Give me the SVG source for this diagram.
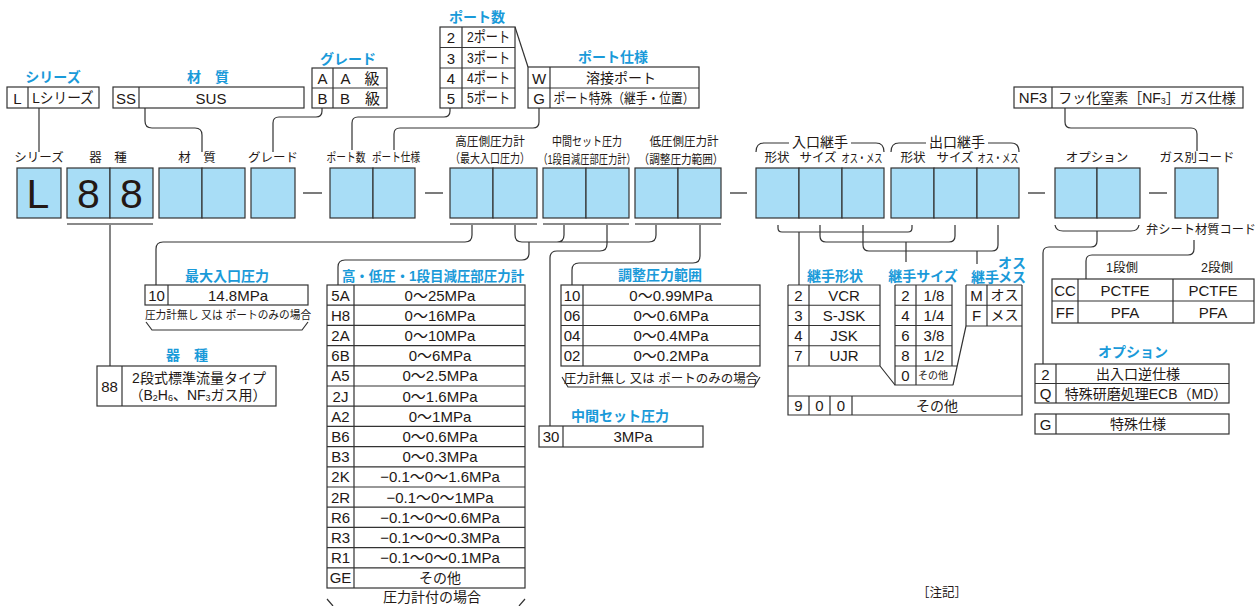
<svg xmlns="http://www.w3.org/2000/svg" width="1258" height="606" viewBox="0 0 1258 606">
<style>
text{font-family:"Liberation Sans","Noto Sans CJK JP",sans-serif;fill:#231815;text-anchor:middle;dominant-baseline:central;font-size:15px}
.j{font-size:14px}
.st{text-anchor:start}
.lb{font-size:12.5px}
.sm{font-size:11.5px}
.xs{font-size:10px}
.ti{fill:#1A9AD9;font-weight:bold;font-size:14px}
.big{font-size:41px;dominant-baseline:alphabetic}
.box{fill:#A8DDF6;stroke:#333;stroke-width:1.2}
.tb{fill:#fff;stroke:#333;stroke-width:1.2}
.ln{fill:none;stroke:#333;stroke-width:1.2}
.ul{stroke:#8a8a8a;stroke-width:2}
.dash{stroke:#333;stroke-width:1.3}
</style>
<rect width="1258" height="606" fill="#fff"/>

<g id="connectors">
  <path class="ln" d="M39 108V152"/>
  <path class="ln" d="M145 108V121Q145 128 152 128H195Q202 128 202 135V152"/>
  <path class="ln" d="M322 108V111Q322 117 316 117H279Q273 117 273 123V152"/>
  <path class="ln" d="M450 108V111Q450 117 444 117H358Q352 117 352 123V150"/>
  <path class="ln" d="M539 108V122Q539 128 533 128H400Q394 128 394 134V150"/>
  <path class="ln" d="M515 27L528 67"/>
  <path class="ln" d="M1065 108V122Q1065 128 1071 128H1191Q1197 128 1197 134V151"/>
  <line class="ul" x1="67" y1="224" x2="153" y2="224"/>
  <line class="ul" x1="450" y1="224" x2="537" y2="224"/>
  <line class="ul" x1="543" y1="224" x2="629" y2="224"/>
  <line class="ul" x1="635" y1="224" x2="721" y2="224"/>
  <path class="ln" d="M110 225V366"/>
  <path class="ln" d="M472 225V235Q472 242 465 242H163Q156 242 156 249V285"/>
  <path class="ln" d="M515 225V235Q515 242 522 242H649Q656 242 656 235V225M564 225V235Q564 242 557 242"/>
  <path class="ln" d="M529 242V253Q529 260 522 260H345Q338 260 338 267V285"/>
  <path class="ln" d="M607 225V244Q607 251 600 251H557Q550 251 550 258V426"/>
  <path class="ln" d="M700 225V256Q700 263 693 263H579Q572 263 572 270V285"/>
  <path class="ln" d="M756 152Q756 143 764 143H789M851 143H876Q884 143 884 152"/>
  <path class="ln" d="M891 152Q891 143 899 143H926M988 143H1011Q1019 143 1019 152"/>
  <path class="ln" d="M778 225V228Q778 232 782 232H908Q912 232 912 228V225M799 232V285"/>
  <path class="ln" d="M820 225V236Q820 242 826 242H949Q955 242 955 236V225M906 242V262"/>
  <path class="ln" d="M863 225V245Q863 251 869 251H992Q998 251 998 245V225M977 251V264"/>
  <path class="ln" d="M1055 225Q1056 231 1063 231H1131Q1138 231 1139 225M1097 231V241Q1097 247 1091 247H1049Q1043 247 1043 253V364"/>
  <path class="ln" d="M1194 240V249Q1194 255 1188 255H1092Q1086 255 1086 261V279"/>
  <path class="ln" d="M146 322L152 330H302L308 322"/>
  <path class="ln" d="M562 377L568 387H754L760 377"/>
  <path class="ln" d="M327 599L333 606M525 599L519 606"/>
  <line class="dash" x1="303" y1="193" x2="322" y2="193"/>
  <line class="dash" x1="425" y1="193" x2="443" y2="193"/>
  <line class="dash" x1="730" y1="193" x2="747" y2="193"/>
  <line class="dash" x1="1028" y1="193" x2="1045" y2="193"/>
  <line class="dash" x1="1149" y1="193" x2="1167" y2="193"/>
</g>

<g id="code-boxes">
  <rect class="box" x="17" y="168" width="44" height="50"/>
  <rect class="box" x="67" y="168" width="43" height="50"/><rect class="box" x="110" y="168" width="43" height="50"/>
  <rect class="box" x="159" y="168" width="43" height="50"/><rect class="box" x="202" y="168" width="43" height="50"/>
  <rect class="box" x="251" y="168" width="44" height="50"/>
  <rect class="box" x="330" y="168" width="43" height="50"/><rect class="box" x="373" y="168" width="42" height="50"/>
  <rect class="box" x="450" y="168" width="43" height="50"/><rect class="box" x="493" y="168" width="44" height="50"/>
  <rect class="box" x="543" y="168" width="43" height="50"/><rect class="box" x="586" y="168" width="43" height="50"/>
  <rect class="box" x="635" y="168" width="43" height="50"/><rect class="box" x="678" y="168" width="43" height="50"/>
  <rect class="box" x="756" y="168" width="43" height="50"/><rect class="box" x="799" y="168" width="43" height="50"/><rect class="box" x="842" y="168" width="42" height="50"/>
  <rect class="box" x="891" y="168" width="43" height="50"/><rect class="box" x="934" y="168" width="43" height="50"/><rect class="box" x="977" y="168" width="42" height="50"/>
  <rect class="box" x="1055" y="168" width="42" height="50"/><rect class="box" x="1097" y="168" width="43" height="50"/>
  <rect class="box" x="1175" y="168" width="43" height="50"/>
  <text class="big" x="38" y="208">L</text>
  <text class="big" x="88.5" y="208">8</text>
  <text class="big" x="131.5" y="208">8</text>
</g>

<g id="box-labels">
  <text class="lb" x="39" y="158">シリーズ</text>
  <text class="lb" x="108" y="158">器　種</text>
  <text class="lb" x="197" y="158">材　質</text>
  <text class="lb" x="273" y="158">グレード</text>
  <text class="lb" transform="translate(346 158) scale(0.78 1)">ポート数</text>
  <text class="lb" transform="translate(396 158) scale(0.77 1)">ポート仕様</text>
  <text class="lb" transform="translate(490 142) scale(0.93 1)">高圧側圧力計</text>
  <text class="lb" transform="translate(490 159) scale(0.8 1)">（最大入口圧力）</text>
  <text class="lb" transform="translate(587 142) scale(0.8 1)">中間セット圧力</text>
  <text class="lb" transform="translate(587 159) scale(0.74 1)">（1段目減圧部圧力計）</text>
  <text class="lb" transform="translate(684 142) scale(0.92 1)">低圧側圧力計</text>
  <text class="lb" transform="translate(681 159) scale(0.85 1)">（調整圧力範囲）</text>
  <text class="j" x="820" y="142">入口継手</text>
  <text class="j" x="957" y="142">出口継手</text>
  <text class="lb" x="777" y="158">形状</text>
  <text class="lb" x="818" y="158">サイズ</text>
  <text class="lb" transform="translate(862 158) scale(0.66 1)">オス・メス</text>
  <text class="lb" x="913" y="158">形状</text>
  <text class="lb" x="955" y="158">サイズ</text>
  <text class="lb" transform="translate(998 158) scale(0.66 1)">オス・メス</text>
  <text class="lb" x="1097" y="158">オプション</text>
  <text class="lb" x="1197" y="158">ガス別コード</text>
  <text class="lb st" transform="translate(1146 230) scale(0.98 1)">弁シート材質コード</text>
</g>

<g id="series">
  <text class="ti" x="53" y="77">シリーズ</text>
  <rect class="tb" x="7" y="87" width="92" height="21"/><line class="ln" x1="28" y1="87" x2="28" y2="108"/>
  <text x="17.5" y="98">L</text><text transform="translate(63 98) scale(0.91 1)">Lシリーズ</text>
</g>

<g id="material">
  <text class="ti" x="208" y="77">材　質</text>
  <rect class="tb" x="113" y="87" width="191" height="21"/><line class="ln" x1="139" y1="87" x2="139" y2="108"/>
  <text x="126" y="98">SS</text><text x="211" y="98">SUS</text>
</g>

<g id="grade">
  <text class="ti" x="348" y="59">グレード</text>
  <rect class="tb" x="312" y="68" width="75" height="40"/>
  <path class="ln" d="M312 88H387M333 68V108"/>
  <text x="322.5" y="78">A</text><text x="322.5" y="98">B</text>
  <text x="360" y="78">A　級</text><text x="360" y="98">B　級</text>
</g>

<g id="port-count">
  <text class="ti" x="477" y="17">ポート数</text>
  <rect class="tb" x="440" y="27" width="75" height="81"/>
  <path class="ln" d="M440 47.5H515M440 68H515M440 88H515M462 27V108"/>
  <text x="451" y="37.5">2</text><text x="451" y="58">3</text><text x="451" y="78">4</text><text x="451" y="98">5</text>
  <text class="st" transform="translate(467 37.5) scale(0.81 1)">2ポート</text>
  <text class="st" transform="translate(467 58) scale(0.81 1)">3ポート</text>
  <text class="st" transform="translate(467 78) scale(0.81 1)">4ポート</text>
  <text class="st" transform="translate(467 98) scale(0.81 1)">5ポート</text>
</g>

<g id="port-spec">
  <text class="ti" x="613" y="57">ポート仕様</text>
  <rect class="tb" x="528" y="67" width="171" height="41"/>
  <path class="ln" d="M528 88H699M550 67V108"/>
  <text x="539" y="78">W</text><text x="539" y="98">G</text>
  <text class="j" x="621" y="78">溶接ポート</text>
  <text class="j" transform="translate(624 98) scale(0.84 1)">ポート特殊（継手・位置）</text>
</g>

<g id="gas-spec">
  <rect class="tb" x="1014" y="87" width="229" height="21"/><line class="ln" x1="1052" y1="87" x2="1052" y2="108"/>
  <text x="1033" y="97.5">NF3</text>
  <text class="j" x="1147" y="97.5">フッ化窒素［NF<tspan font-size="9" dy="3">3</tspan><tspan dy="-3">］ガス仕様</tspan></text>
</g>

<g id="max-inlet">
  <text class="ti" x="227" y="276">最大入口圧力</text>
  <rect class="tb" x="145" y="285" width="163" height="20"/><line class="ln" x1="168" y1="285" x2="168" y2="305"/>
  <text x="156.5" y="295">10</text><text x="238" y="295">14.8MPa</text>
  <text class="sm" transform="translate(228 315) scale(0.93 1)">圧力計無し 又は ポートのみの場合</text>
</g>

<g id="model">
  <text class="ti" x="187" y="355">器　種</text>
  <rect class="tb" x="97" y="366" width="179" height="40"/><line class="ln" x1="122" y1="366" x2="122" y2="406"/>
  <text x="109.5" y="386">88</text>
  <text class="j" x="199" y="378">2段式標準流量タイプ</text>
  <text class="j" x="198" y="395">（B<tspan font-size="9" dy="3">2</tspan><tspan dy="-3">H</tspan><tspan font-size="9" dy="3">6</tspan><tspan dy="-3">、NF</tspan><tspan font-size="9" dy="3">3</tspan><tspan dy="-3">ガス用）</tspan></text>
</g>

<g id="gauge">
  <text class="ti" transform="translate(433 276) scale(0.96 1)">高・低圧・1段目減圧部圧力計</text>
  <rect class="tb" x="327" y="285" width="198" height="303"/>
  <path class="ln" d="M327 305.2H525M327 325.4H525M327 345.6H525M327 365.8H525M327 386H525M327 406.2H525M327 426.4H525M327 446.6H525M327 466.8H525M327 487H525M327 507.2H525M327 527.4H525M327 547.6H525M327 567.8H525M354 285V588"/>
  <text x="340.5" y="295.1">5A</text><text x="440" y="295.1">0〜25MPa</text>
  <text x="340.5" y="315.3">H8</text><text x="440" y="315.3">0〜16MPa</text>
  <text x="340.5" y="335.5">2A</text><text x="440" y="335.5">0〜10MPa</text>
  <text x="340.5" y="355.7">6B</text><text x="440" y="355.7">0〜6MPa</text>
  <text x="340.5" y="375.9">A5</text><text x="440" y="375.9">0〜2.5MPa</text>
  <text x="340.5" y="396.1">2J</text><text x="440" y="396.1">0〜1.6MPa</text>
  <text x="340.5" y="416.3">A2</text><text x="440" y="416.3">0〜1MPa</text>
  <text x="340.5" y="436.5">B6</text><text x="440" y="436.5">0〜0.6MPa</text>
  <text x="340.5" y="456.7">B3</text><text x="440" y="456.7">0〜0.3MPa</text>
  <text x="340.5" y="476.9">2K</text><text x="440" y="476.9">−0.1〜0〜1.6MPa</text>
  <text x="340.5" y="497.1">2R</text><text x="440" y="497.1">−0.1〜0〜1MPa</text>
  <text x="340.5" y="517.3">R6</text><text x="440" y="517.3">−0.1〜0〜0.6MPa</text>
  <text x="340.5" y="537.5">R3</text><text x="440" y="537.5">−0.1〜0〜0.3MPa</text>
  <text x="340.5" y="557.7">R1</text><text x="440" y="557.7">−0.1〜0〜0.1MPa</text>
  <text x="340.5" y="577.9">GE</text><text class="j" x="440" y="577.9">その他</text>
  <text class="j" x="432" y="597">圧力計付の場合</text>
</g>

<g id="regulated">
  <text class="ti" x="660" y="275">調整圧力範囲</text>
  <rect class="tb" x="561" y="285" width="199" height="81"/>
  <path class="ln" d="M561 305.25H760M561 325.5H760M561 345.75H760M583 285V366"/>
  <text x="572" y="295">10</text><text x="671" y="295">0〜0.99MPa</text>
  <text x="572" y="315.4">06</text><text x="671" y="315.4">0〜0.6MPa</text>
  <text x="572" y="335.6">04</text><text x="671" y="335.6">0〜0.4MPa</text>
  <text x="572" y="355.9">02</text><text x="671" y="355.9">0〜0.2MPa</text>
  <text class="lb" x="661" y="379">圧力計無し 又は ポートのみの場合</text>
</g>

<g id="mid-set">
  <text class="ti" x="620" y="416">中間セット圧力</text>
  <rect class="tb" x="539" y="426" width="164" height="21"/><line class="ln" x1="563" y1="426" x2="563" y2="447"/>
  <text x="551" y="436.5">30</text><text x="633" y="436.5">3MPa</text>
</g>

<g id="fittings">
  <text class="ti" x="835" y="276">継手形状</text>
  <text class="ti" x="923" y="276">継手サイズ</text>
  <text class="ti" x="985" y="277">継手</text>
  <text class="ti" x="1012" y="263">オス</text>
  <text class="ti" x="1012" y="277">メス</text>
  <path class="ln" d="M788 285V415H1022V285M788 396H1022M809 396V415M830 396V415M852 396V415"/>
  <path class="ln" d="M788 285H880V366M788 305.25H880M788 325.5H880M788 345.75H880M788 366H880M809 285V366M880 366L895 385"/>
  <path class="ln" d="M895 285H952V366M895 285V385H953M895 305.25H952M895 325.5H952M895 345.75H952M895 366H957M916 285V385M953 385L966 326"/>
  <path class="ln" d="M966 285H1022M966 285V326M966 305.25H1022M966 326H1022M987 285V326"/>
  <text x="798.5" y="295">2</text><text x="844" y="295">VCR</text>
  <text x="798.5" y="315.4">3</text><text x="844" y="315.4">S-JSK</text>
  <text x="798.5" y="335.6">4</text><text x="844" y="335.6">JSK</text>
  <text x="798.5" y="355.9">7</text><text x="844" y="355.9">UJR</text>
  <text x="905.5" y="295">2</text><text x="934" y="295">1/8</text>
  <text x="905.5" y="315.4">4</text><text x="934" y="315.4">1/4</text>
  <text x="905.5" y="335.6">6</text><text x="934" y="335.6">3/8</text>
  <text x="905.5" y="355.9">8</text><text x="934" y="355.9">1/2</text>
  <text x="905.5" y="375.8">0</text><text class="xs" x="933" y="375.8">その他</text>
  <text x="976.5" y="295">M</text><text class="j" x="1004.5" y="295">オス</text>
  <text x="976.5" y="315.4">F</text><text class="j" x="1004.5" y="315.4">メス</text>
  <text x="798.5" y="405.5">9</text><text x="819.5" y="405.5">0</text><text x="841" y="405.5">0</text>
  <text class="j" x="937" y="405.5">その他</text>
</g>

<g id="seat-material">
  <text class="lb" x="1122" y="268">1段側</text>
  <text class="lb" x="1217" y="268">2段側</text>
  <rect class="tb" x="1052" y="279" width="202" height="44"/>
  <path class="ln" d="M1052 301H1254M1078 279V323M1173 279V323"/>
  <text x="1065" y="290">CC</text><text x="1125" y="290">PCTFE</text><text x="1213" y="290">PCTFE</text>
  <text x="1065" y="312">FF</text><text x="1125" y="312">PFA</text><text x="1213" y="312">PFA</text>
</g>

<g id="option">
  <text class="ti" x="1133" y="352">オプション</text>
  <rect class="tb" x="1035" y="364" width="194" height="39"/>
  <path class="ln" d="M1035 383.5H1229M1056 364V403"/>
  <text x="1045.5" y="374">2</text><text class="j" x="1138" y="374">出入口逆仕様</text>
  <text x="1045.5" y="393.5">Q</text><text class="j" x="1146" y="393.5">特殊研磨処理ECB（MD）</text>
  <rect class="tb" x="1035" y="414" width="194" height="20"/><line class="ln" x1="1056" y1="414" x2="1056" y2="434"/>
  <text x="1045.5" y="424">G</text><text class="j" x="1138" y="424">特殊仕様</text>
</g>

<g id="note">
  <text class="lb" x="942" y="593">［注記］</text>
</g>
</svg>
